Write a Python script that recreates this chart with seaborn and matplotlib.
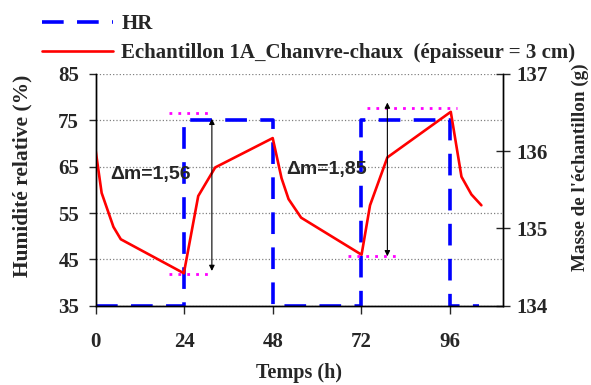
import matplotlib
matplotlib.use("Agg")
import matplotlib.pyplot as plt
import seaborn as sns
import pandas as pd

# HR profile (step) and mass of sample 1A
hr_time = [0, 24, 24, 48, 48, 72, 72, 96, 96, 104]
hr_value = [35, 35, 75, 75, 35, 35, 75, 75, 35, 35]

mass_time = [0, 1.6, 4.8, 6.8, 23.9, 27.8, 32.4, 48, 50.4, 52.3, 55.7,
             72.1, 74.4, 79.1, 96.3, 99.2, 101.9, 104.6]
mass_value = [136.0, 135.46, 135.02, 134.86, 134.42, 135.42, 135.79, 136.17, 135.65,
              135.38, 135.14, 134.66, 135.30, 135.92, 136.51, 135.67, 135.44, 135.30]

x_ticks = [0, 24, 48, 72, 96]
hr_ticks = [35, 45, 55, 65, 75, 85]
mass_ticks = [134, 135, 136, 137]

# delta m annotations: (label, text_x, text_y, arrow_t, top_m, bot_m, top span, bottom span)
deltas = [
    ("Δm=1,56", 3.9, 63.4, 31.5, 136.42, 134.45, (20.0, 31.7), (20.0, 31.7)),
    ("Δm=1,85", 51.6, 64.3, 79.1, 136.63, 134.64, (73.5, 97.9), (68.5, 82.3)),
]
top_levels = [136.50, 136.56]
bot_levels = [134.41, 134.64]

df_hr = pd.DataFrame({"t": hr_time, "HR": hr_value})
df_m = pd.DataFrame({"t": mass_time, "m": mass_value})

sns.set_style("ticks")
plt.rcParams["font.family"] = ["Liberation Serif", "DejaVu Serif"]
plt.rcParams["font.weight"] = "bold"

fig = plt.figure(figsize=(5.91, 3.85), dpi=100)
ax = fig.add_axes([0.162, 0.206, 0.6887, 0.6018])
ax2 = ax.twinx()

sns.lineplot(data=df_hr, x="t", y="HR", ax=ax, color="#0000FF", linewidth=2.6,
             sort=False, estimator=None, label="HR", legend=False)
ax.lines[0].set_dashes((6, 3.7))

sns.lineplot(data=df_m, x="t", y="m", ax=ax2, color="#FF0000", linewidth=1.9,
             sort=False, estimator=None, legend=False)

ax.set_xlim(0, 110.4)
ax.set_ylim(35, 85)
ax.set_xticks(x_ticks)
ax.set_yticks(hr_ticks)
ax2.set_ylim(134, 137)
ax2.set_yticks(mass_ticks)

ax.yaxis.grid(True, color="#808080", linestyle=":", linewidth=0.9)

for a in (ax, ax2):
    a.spines["top"].set_visible(False)
    for s in a.spines.values():
        s.set_linewidth(1.0)
        s.set_color("black")

ax.tick_params(axis="y", direction="out", length=5, width=1, pad=7, labelsize=15)
ax.tick_params(axis="x", direction="out", length=6, width=1, pad=13, labelsize=15)
ax2.tick_params(axis="y", direction="inout", length=10, width=1, pad=5, labelsize=15)
for lab in ax.get_xticklabels() + ax.get_yticklabels() + ax2.get_yticklabels():
    lab.set_fontweight("bold")

ax.set_xlabel("Temps (h)", fontsize=14.5, fontweight="bold")
ax.set_ylabel("Humidité relative (%)", fontsize=15.5, fontweight="bold")
ax2.set_ylabel("Masse de l'échantillon (g)", fontsize=13.8, fontweight="bold")
ax.xaxis.label.set_va("center")
ax.xaxis.set_label_coords(0.4996, -0.29)
ax.yaxis.label.set_va("center")
ax.yaxis.set_label_coords(-0.179, 0.562)
ax2.yaxis.label.set_va("center")
ax2.yaxis.set_label_coords(1.19, 0.596)

for (lab, tx, ty, at, mt, mb, span_t, span_b), lt, lb in zip(deltas, top_levels, bot_levels):
    ax2.plot(span_t, [lt, lt], color="#FF00FF", linestyle=(0, (1, 2.2)), linewidth=2)
    ax2.plot(span_b, [lb, lb], color="#FF00FF", linestyle=(0, (1, 2.2)), linewidth=2)
    ax2.annotate("", xy=(at, mb), xytext=(at, mt),
                 arrowprops=dict(arrowstyle="<|-|>", color="black", lw=0.8,
                                 mutation_scale=8, shrinkA=0, shrinkB=0))
    ax.text(tx, ty, lab, fontsize=14, fontweight="bold", va="center", ha="left",
            family=["Liberation Sans", "DejaVu Sans"])

h1 = ax.lines[0]
h2 = ax2.lines[0]
fig.legend([h1, h2], ["HR", "Echantillon 1A_Chanvre-chaux  (épaisseur = 3 cm)"],
           loc="upper left", bbox_to_anchor=(0.071, 0.964), frameon=False,
           handlelength=3.4, handletextpad=0.4, labelspacing=0.45,
           borderpad=0, borderaxespad=0, prop={"weight": "bold", "size": 15})

fig.savefig("out.png", dpi=100)
